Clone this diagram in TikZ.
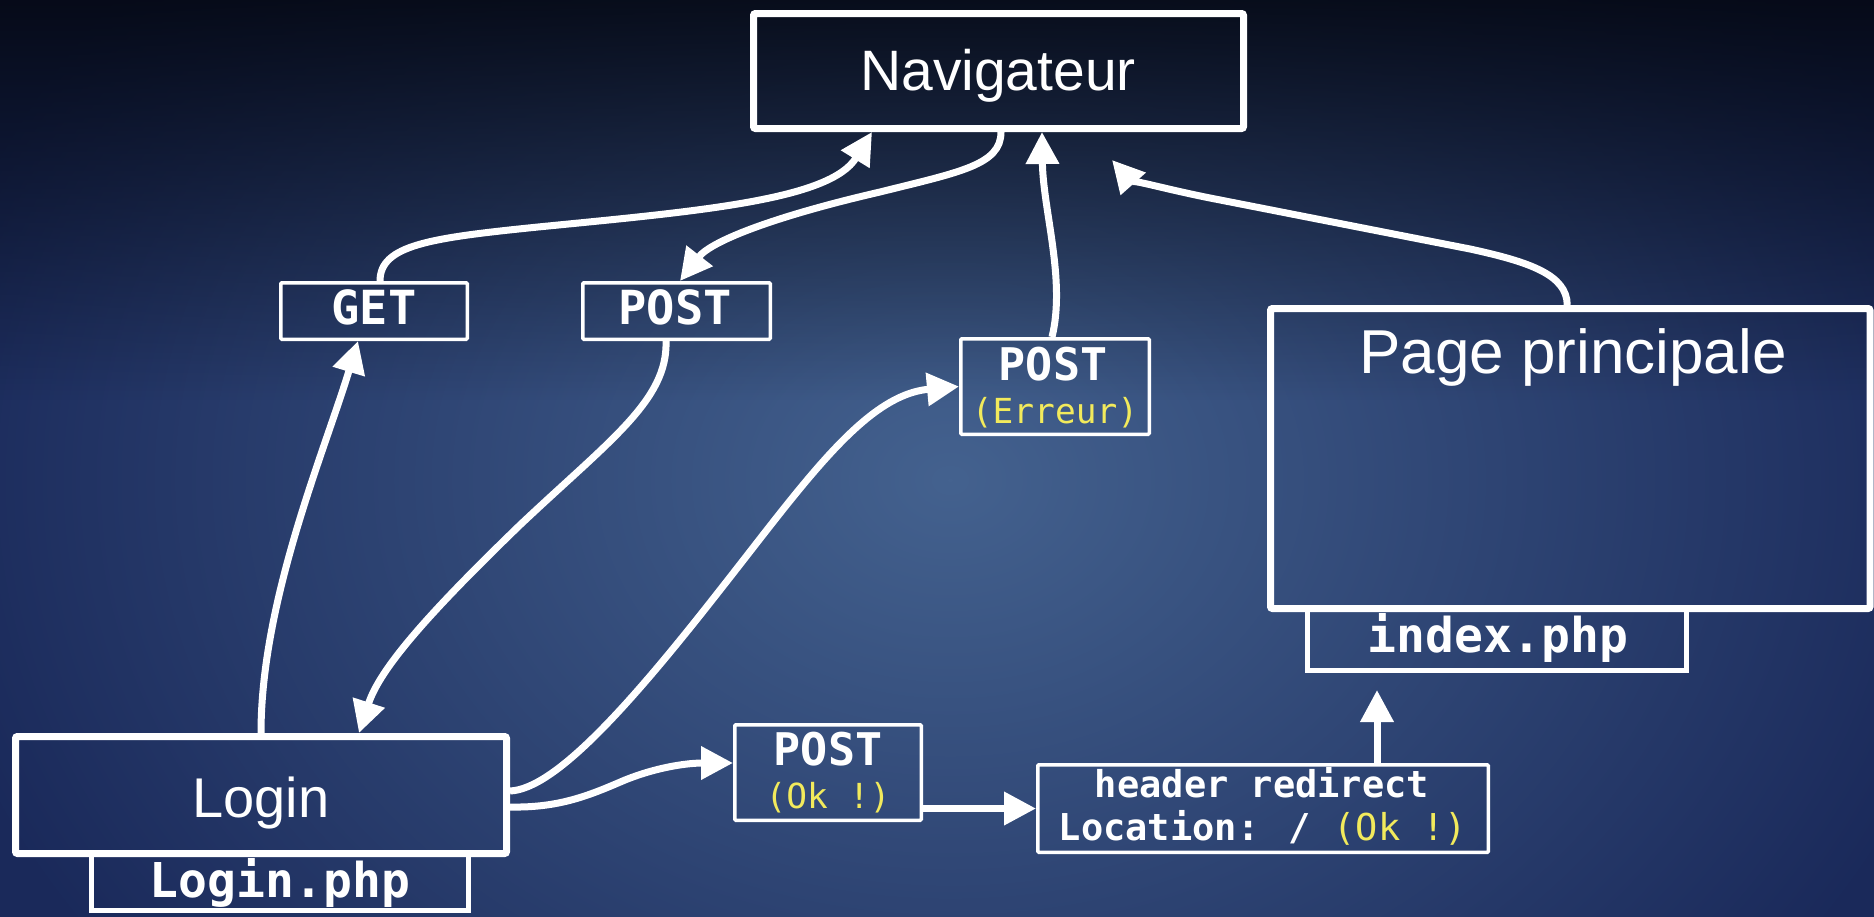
\documentclass[tikz,border=0pt]{standalone}
\usepackage{fontspec}
\setmainfont{Liberation Sans}
\newfontfamily\codefont{DejaVu Sans Mono}
\usetikzlibrary{arrows.meta,fadings}

\definecolor{bgbase}{HTML}{1A295A}
\definecolor{bgglow}{HTML}{44628F}
\definecolor{bgtop}{HTML}{03060F}
\definecolor{codeyellow}{HTML}{F2EA5C}

\tikzfading[name=glowfade, inner color=transparent!0, outer color=transparent!100]
\tikzfading[name=topfade, top color=transparent!0, bottom color=transparent!100]

\tikzset{
  bigbox/.style={draw=white, line width=7pt, rounded corners=2pt, inner sep=0pt},
  filebox/.style={draw=white, line width=5pt, inner sep=0pt},
  msgbox/.style={draw=white, line width=3.5pt, rounded corners=1pt, inner sep=0pt},
  titletext/.style={anchor=base, inner sep=0pt, text=white, font=\fontsize{#1}{#1}\selectfont},
  codetext/.style={anchor=base, inner sep=0pt, text=white, font=\codefont\bfseries\fontsize{#1}{#1}\selectfont},
  notetext/.style={anchor=base, inner sep=0pt, text=codeyellow, font=\codefont\fontsize{#1}{#1}\selectfont},
  flow/.style={draw=white, line width=7pt, -{Triangle[length=32pt,width=32pt]}},
}

\begin{document}
\begin{tikzpicture}[x=1pt, y=-1pt]
\useasboundingbox (0,0) rectangle (1874,916);

% backdrop: navy ground, soft central glow, darker top band
\fill[bgbase] (-10,-10) rectangle (1884,926);
\fill[bgglow, path fading=glowfade] (950,480) ellipse [x radius=1050, y radius=820];
\fill[bgtop, path fading=topfade] (-10,-60) rectangle (1884,400);

% file tabs (drawn first, their top edges sit under the page boxes)
\node[filebox, minimum width=377pt, minimum height=57pt] (loginphp) at (280,882) {};
\node[filebox, minimum width=379pt, minimum height=62pt] (index) at (1497,639.5) {};

% pages
\node[bigbox, minimum width=490pt, minimum height=115pt] (nav) at (998.5,71) {};
\node[bigbox, minimum width=491pt, minimum height=117pt] (login) at (261,795) {};
\node[bigbox, minimum width=599.5pt, minimum height=300pt] (page) at (1570.25,458.5) {};

% requests
\node[msgbox, minimum width=186.5pt, minimum height=56.5pt] (get) at (374,311) {};
\node[msgbox, minimum width=187.5pt, minimum height=56.5pt] (postA) at (676.5,311) {};
\node[msgbox, minimum width=188.5pt, minimum height=95.5pt] (postErr) at (1055,386.5) {};
\node[msgbox, minimum width=186.5pt, minimum height=95.5pt] (postOk) at (828,772.5) {};
\node[msgbox, minimum width=450.5pt, minimum height=87.5pt] (header) at (1263,808.5) {};

% labels
\node[titletext=57] (navtxt) at (998,90) {Navigateur};
\node[titletext=62] (pagetxt) at (1573,373) {Page principale};
\node[titletext=56] (logintxt) at (261,817) {Login};
\node[codetext=48] (loginphptxt) at (280,897) {Login.php};
\node[codetext=48] (indextxt) at (1498,652) {index.php};
\node[codetext=47] (gettxt) at (374,324) {GET};
\node[codetext=47] (postAtxt) at (675,324) {POST};
\node[codetext=45] (postErrtxt) at (1053,380) {POST};
\node[notetext=34.5] (errtxt) at (1055,423) {(Erreur)};
\node[codetext=45] (postOktxt) at (828,765) {POST};
\node[notetext=34.5] (oktxt) at (828,808) {(Ok !)};
\node[codetext=37] (hdrone) at (1262,797) {header redirect};
\node[codetext=37] (hdrtwo) at (1263,840) {Location: / {\mdseries\color{codeyellow}(Ok !)}};

% connectors
\draw[flow] (login.north) .. controls (261,600) and (325,450) .. ([xshift=-16pt]get.south);
\draw[flow] ([xshift=6pt]get.north) .. controls (380,245) and (430,238) .. (538,227)
            .. controls (700,211) and (830,200) .. ([xshift=-126.5pt]nav.south);
\draw[flow] ([xshift=2.5pt]nav.south) .. controls (1001,165) and (960,172) .. (880,192)
            .. controls (780,215) and (712,240) .. ([xshift=3.5pt]postA.north);
\draw[flow] ([xshift=-10.5pt]postA.south) .. controls (668,400) and (610,440) .. (520,525)
            .. controls (430,612) and (380,668) .. ([xshift=98pt]login.north);
\draw[flow] ([yshift=4pt]login.east) .. controls (555,789) and (630,705) .. (720,590)
            .. controls (805,482) and (865,395) .. (postErr.west);
\draw[flow] ([yshift=-12pt]login.east) .. controls (560,808) and (590,795) .. (625,780)
            .. controls (660,766) and (690,763) .. ([yshift=9.5pt]postOk.west);
\draw[flow] (postOk.east |- header.west) -- (header.west);
\draw[flow, shorten >=17pt] ([xshift=114pt]header.north) -- ([xshift=114pt]header.north |- index.south);
\draw[flow] ([xshift=-3pt]postErr.north) .. controls (1066,280) and (1043,210) .. ([xshift=43.5pt]nav.south);
\coordinate (navR) at (1112,160);
\draw[flow] ([xshift=-3pt]page.north) .. controls (1567,275) and (1530,262) .. (1470,249)
            -- (1210,198) .. controls (1160,188) and (1128,178) .. (navR);
\end{tikzpicture}
\end{document}
